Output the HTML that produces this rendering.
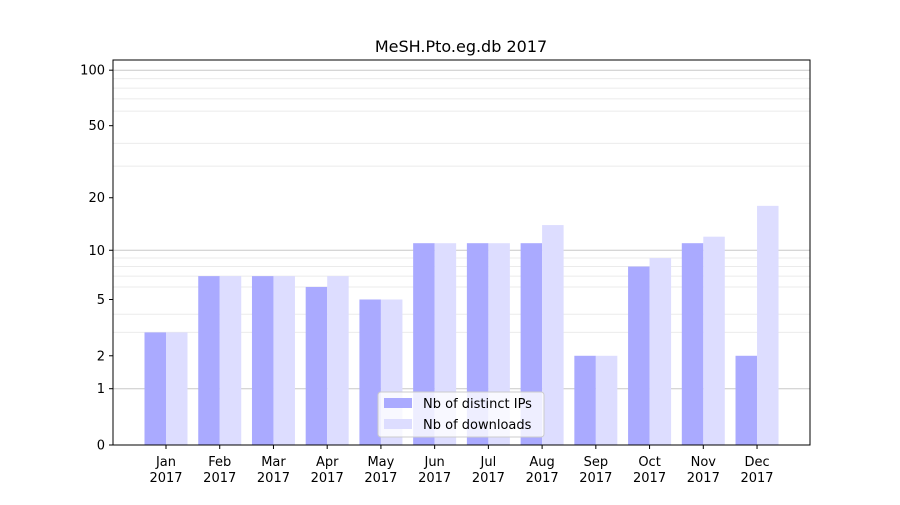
<!DOCTYPE html>
<html><head><meta charset="utf-8"><style>
body{margin:0;background:#fff;font-family:"Liberation Sans","DejaVu Sans",sans-serif;}
svg text{font-family:"DejaVu Sans","Liberation Sans",sans-serif;}
</style></head><body>
<svg id="c" width="900" height="500" xmlns="http://www.w3.org/2000/svg"></svg>
<script>
const months=["Jan","Feb","Mar","Apr","May","Jun","Jul","Aug","Sep","Oct","Nov","Dec"];
const ips=[3,7,7,6,5,11,11,11,2,8,11,2];
const downloads=[3,7,7,7,5,11,11,14,2,9,12,18];
const yTicks=[0,1,2,5,10,20,50,100];
const minorTicks=[3,4,6,7,8,9,30,40,60,70,80,90];
const majorGrid=[1,10,100];
const L=113,R=810,T=60,B=445;
const svg=document.getElementById('c');
const NS='http://www.w3.org/2000/svg';
function y(v){return B-187*Math.log10(1+v);}
function x(i){return 166+i*53.73;}
function mk(t,a,txt){const e=document.createElementNS(NS,t);for(const k in a)e.setAttribute(k,a[k]);if(txt!==undefined)e.textContent=txt;svg.appendChild(e);return e;}
let e;
minorTicks.forEach(v=>{e=mk('line',{x1:L,x2:R,y1:y(v),y2:y(v),stroke:'#ebebeb','stroke-width':1});

});
majorGrid.forEach(v=>{e=mk('line',{x1:L,x2:R,y1:y(v),y2:y(v),stroke:'#c8c8c8','stroke-width':1});

});
const bw=21.5;
months.forEach((m,i)=>{
 e=mk('rect',{x:x(i)-bw,y:y(ips[i]),width:bw,height:B-y(ips[i]),fill:'#aaaaff'});
 
 
 e=mk('rect',{x:x(i),y:y(downloads[i]),width:bw,height:B-y(downloads[i]),fill:'#ddddff'});
 
 
 mk('line',{x1:x(i),x2:x(i),y1:B,y2:B+4,stroke:'#000'});
 e=mk('text',{x:x(i),y:B+21,'text-anchor':'middle','font-size':13},m);
 
 
 e=mk('text',{x:x(i),y:B+37,'text-anchor':'middle','font-size':13},'2017');
 
 
});
yTicks.forEach(v=>{
 mk('line',{x1:L-4,x2:L,y1:y(v),y2:y(v),stroke:'#000'});
 e=mk('text',{x:L-8,y:y(v)+4.5,'text-anchor':'end','font-size':13},String(v));
 
 
});
e=mk('rect',{x:L,y:T,width:R-L,height:B-T,fill:'none',stroke:'#000','stroke-width':1});


e=mk('text',{x:461,y:52,'text-anchor':'middle','font-size':16},'MeSH.Pto.eg.db 2017');


e=mk('rect',{x:378,y:392,width:166,height:45,fill:'#fff','fill-opacity':0.8,stroke:'#ccc',rx:3});


mk('rect',{x:384,y:398,width:28,height:10,fill:'#aaaaff'});
e=mk('text',{x:423,y:408,'font-size':13},'Nb of distinct IPs');


mk('rect',{x:384,y:419,width:28,height:10,fill:'#ddddff'});
e=mk('text',{x:423,y:429,'font-size':13},'Nb of downloads');


</script>
</body></html>
